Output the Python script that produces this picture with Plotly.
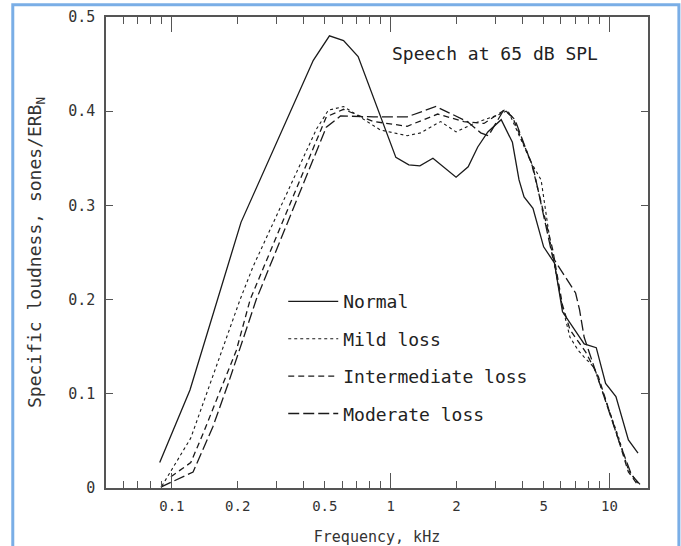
'''
    Specific loudness patterns for speech at 65 dB SPL,
    normal hearing versus three degrees of hearing loss.
'''

import plotly.graph_objects as go

# Normal hearing
normal_freq = [0.088, 0.121, 0.207, 0.443, 0.525, 0.609, 0.71, 1.056, 1.21, 1.36,
               1.56, 1.99, 2.26, 2.5, 2.78, 3.2, 3.6, 3.86, 4.07, 4.47, 5.0, 5.6,
               6.1, 7.66, 8.7, 9.6, 10.7, 12.2, 13.5]
normal_val = [0.027, 0.104, 0.282, 0.454, 0.480, 0.475, 0.458, 0.351, 0.343, 0.342,
              0.350, 0.330, 0.341, 0.362, 0.378, 0.391, 0.367, 0.327, 0.309, 0.297,
              0.256, 0.239, 0.187, 0.153, 0.149, 0.111, 0.097, 0.051, 0.037]

# Mild loss
mild_freq = [0.09, 0.122, 0.159, 0.205, 0.235, 0.458, 0.519, 0.609, 0.898, 1.19,
             1.37, 1.69, 1.99, 2.4, 3.1, 3.43, 4.4, 4.87, 5.4, 6.1, 6.6, 7.2, 7.66,
             8.5, 11.0, 12.2, 13.5]
mild_val = [0.002, 0.053, 0.128, 0.200, 0.235, 0.381, 0.401, 0.405, 0.380, 0.374,
            0.377, 0.389, 0.378, 0.387, 0.396, 0.401, 0.345, 0.327, 0.256, 0.192,
            0.160, 0.146, 0.139, 0.128, 0.054, 0.019, 0.005]

# Intermediate loss
inter_freq = [0.099, 0.122, 0.139, 0.197, 0.228, 0.508, 0.609, 0.836, 1.19, 1.64,
              2.16, 2.67, 3.3, 3.6, 4.4, 5.0, 5.5, 6.1, 6.6, 7.8, 8.9, 11.0, 12.2, 13.5]
inter_val = [0.012, 0.027, 0.058, 0.146, 0.200, 0.394, 0.402, 0.389, 0.384, 0.397,
             0.389, 0.387, 0.401, 0.394, 0.345, 0.292, 0.253, 0.194, 0.168, 0.144,
             0.118, 0.051, 0.017, 0.003]

# Moderate loss
moder_freq = [0.089, 0.125, 0.154, 0.181, 0.243, 0.508, 0.59, 0.836, 1.19, 1.61,
              2.24, 2.58, 2.8, 3.3, 3.7, 4.5, 5.5, 6.5, 7.0, 7.3, 7.66, 8.9, 11.0,
              12.6, 14.0]
moder_val = [0.001, 0.017, 0.065, 0.111, 0.200, 0.383, 0.395, 0.394, 0.394, 0.405,
             0.389, 0.377, 0.374, 0.402, 0.391, 0.338, 0.245, 0.218, 0.207, 0.189,
             0.160, 0.115, 0.051, 0.014, 0.002]

# axis ticks
x_tickvals = [0.1, 0.2, 0.5, 1, 2, 5, 10]
x_ticktext = ['0.1', '0.2', '0.5', '1', '2', '5', '10']
x_minorvals = [0.06, 0.07, 0.08, 0.09, 0.3, 0.4, 0.6, 0.7, 0.8, 0.9,
               3, 4, 6, 7, 8, 9]
x_decades = [0.1, 1, 10]
y_tickvals = [0, 0.1, 0.2, 0.3, 0.4, 0.5]
y_ticktext = ['0', '0.1', '0.2', '0.3', '0.4', '0.5']

FONT = 'DejaVu Sans Mono'
INK = '#1a1a1a'
AXIS = '#555555'

series = [
    ('Normal', normal_freq, normal_val, 'solid', 1.3),
    ('Mild loss', mild_freq, mild_val, 'dot', 1.1),
    ('Intermediate loss', inter_freq, inter_val, '6px,4px', 1.3),
    ('Moderate loss', moder_freq, moder_val, '11px,4px', 1.3),
]

fig = go.Figure()
for name, fx, fy, dash, width in series:
    fig.add_trace(go.Scatter(
        x=fx, y=fy, mode='lines', name=name, legendgroup=name,
        line=dict(color=INK, width=width, dash=dash)
    ))

# invisible trace so the overlay axis carrying the long decade ticks is drawn
fig.add_trace(go.Scatter(x=[0.1], y=[0], xaxis='x2', mode='markers',
                         marker=dict(opacity=0), showlegend=False, hoverinfo='skip'))

xrange_log = [-1.301, 1.176]

fig.update_layout(
    width=681, height=546,
    margin=dict(l=106, r=33, t=17, b=58, autoexpand=False),
    paper_bgcolor='white', plot_bgcolor='white',
    font=dict(family=FONT, color='#333333', size=14),
    showlegend=True,
    legend=dict(x=0.327, y=0.435, xanchor='left', yanchor='top',
                bgcolor='rgba(0,0,0,0)', tracegroupgap=11, itemwidth=50,
                font=dict(family=FONT, size=18, color='#222222')),
    xaxis=dict(
        type='log', range=xrange_log, automargin=False,
        tickvals=x_tickvals, ticktext=x_ticktext,
        ticks='inside', ticklen=7, tickwidth=1.2, tickcolor=AXIS,
        minor=dict(tickvals=x_minorvals, ticks='inside', ticklen=7,
                   tickwidth=1.2, tickcolor=AXIS, showgrid=False),
        showline=True, linecolor=AXIS, linewidth=1.5, mirror='ticks',
        showgrid=False, zeroline=False, ticklabelstandoff=4,
        tickfont=dict(family=FONT, size=14, color='#333333'),
        title=dict(text='Frequency, kHz', standoff=20,
                   font=dict(family=FONT, size=15, color='#333333')),
    ),
    xaxis2=dict(
        type='log', range=xrange_log, overlaying='x', side='bottom',
        tickvals=x_decades, ticks='inside', ticklen=15, tickwidth=1.2,
        tickcolor=AXIS, showticklabels=False, automargin=False,
        showline=True, linecolor=AXIS, linewidth=1.5, mirror='ticks',
        showgrid=False, zeroline=False,
    ),
    yaxis=dict(
        range=[0, 0.5], tickvals=y_tickvals, ticktext=y_ticktext,
        automargin=False, ticklabelstandoff=6,
        ticks='inside', ticklen=7, tickwidth=1.2, tickcolor=AXIS,
        showline=True, linecolor=AXIS, linewidth=1.5, mirror='ticks',
        showgrid=False, zeroline=False,
        tickfont=dict(family=FONT, size=15, color='#333333'),
        title=dict(text='Specific loudness, sones/ERB<sub>N</sub>', standoff=22,
                   font=dict(family=FONT, size=18, color='#333333')),
    ),
    annotations=[dict(
        text='Speech at 65 dB SPL', xref='paper', yref='paper',
        x=0.718, y=0.922, xanchor='center', yanchor='middle', showarrow=False,
        font=dict(family=FONT, size=18, color='#222222')
    )],
    shapes=[dict(
        type='rect', xref='paper', yref='paper',
        x0=-0.172, x1=1.057, y0=-0.2, y1=1.026,
        line=dict(color='#7aaee6', width=3), layer='below'
    )],
)

fig.write_html('out.html', config={'displayModeBar': False},
               post_script="document.body.style.margin='0';")
